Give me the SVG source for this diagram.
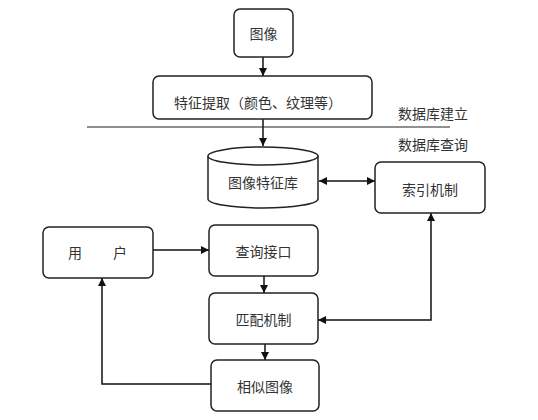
<svg xmlns="http://www.w3.org/2000/svg" width="538" height="420" viewBox="0 0 538 420">
<style>
.box{fill:#fff;stroke:#222;stroke-width:1.5}
.ln{fill:none;stroke:#111;stroke-width:1.5}
text{font-family:"Liberation Serif","Noto Sans CJK SC",serif;font-size:14px;fill:#333;text-anchor:middle;dominant-baseline:central}
</style>
<defs>
<marker id="ah" viewBox="0 0 10 10" refX="10" refY="5" markerWidth="8" markerHeight="8" markerUnits="userSpaceOnUse" orient="auto-start-reverse">
<path d="M0,0 L10,5 L0,10 z" fill="#111"/>
</marker>
</defs>
<rect width="538" height="420" fill="#fff"/>
<g id="connectors">
<line class="ln" x1="263" y1="57" x2="263" y2="76" marker-end="url(#ah)"/>
<line class="ln" x1="263" y1="119" x2="263" y2="146" marker-end="url(#ah)"/>
<line class="ln" x1="319" y1="181" x2="375" y2="181" marker-start="url(#ah)" marker-end="url(#ah)"/>
<line class="ln" x1="153" y1="250" x2="209" y2="250" marker-end="url(#ah)"/>
<line class="ln" x1="264" y1="276" x2="264" y2="293" marker-end="url(#ah)"/>
<line class="ln" x1="265" y1="344" x2="265" y2="360" marker-end="url(#ah)"/>
<polyline class="ln" points="211,384 102,384 102,278" marker-end="url(#ah)"/>
<polyline class="ln" points="431,213 431,320 318,320" marker-start="url(#ah)" marker-end="url(#ah)"/>
<line x1="87" y1="127" x2="450" y2="127" stroke="#222" stroke-width="1.2"/>
</g>
<g id="image"><rect class="box" x="234" y="9" width="59" height="48" rx="6"/><text x="263.5" y="34">图像</text></g>
<g id="extract"><rect class="box" x="153" y="76" width="219" height="43" rx="6"/><text x="258" y="103">特征提取（颜色、纹理等）</text></g>
<g id="labels"><text x="433" y="114">数据库建立</text><text x="433" y="145">数据库查询</text></g>
<g id="featuredb">
<path class="box" d="M208,156 L208,199 A55,9 0 0 0 318,199 L318,156"/>
<ellipse class="box" cx="263" cy="156" rx="55" ry="9"/>
<text x="263" y="183">图像特征库</text>
</g>
<g id="index"><rect class="box" x="375" y="162" width="110" height="51" rx="6"/><text x="430" y="190">索引机制</text></g>
<g id="user"><rect class="box" x="43" y="227" width="110" height="51" rx="6"/><text x="75" y="253">用</text><text x="120" y="253">户</text></g>
<g id="query"><rect class="box" x="209" y="225" width="109" height="51" rx="6"/><text x="263.5" y="252">查询接口</text></g>
<g id="match"><rect class="box" x="209" y="293" width="109" height="51" rx="6"/><text x="263.5" y="320">匹配机制</text></g>
<g id="similar"><rect class="box" x="211" y="360" width="108" height="51" rx="6"/><text x="265" y="387">相似图像</text></g>
</svg>
